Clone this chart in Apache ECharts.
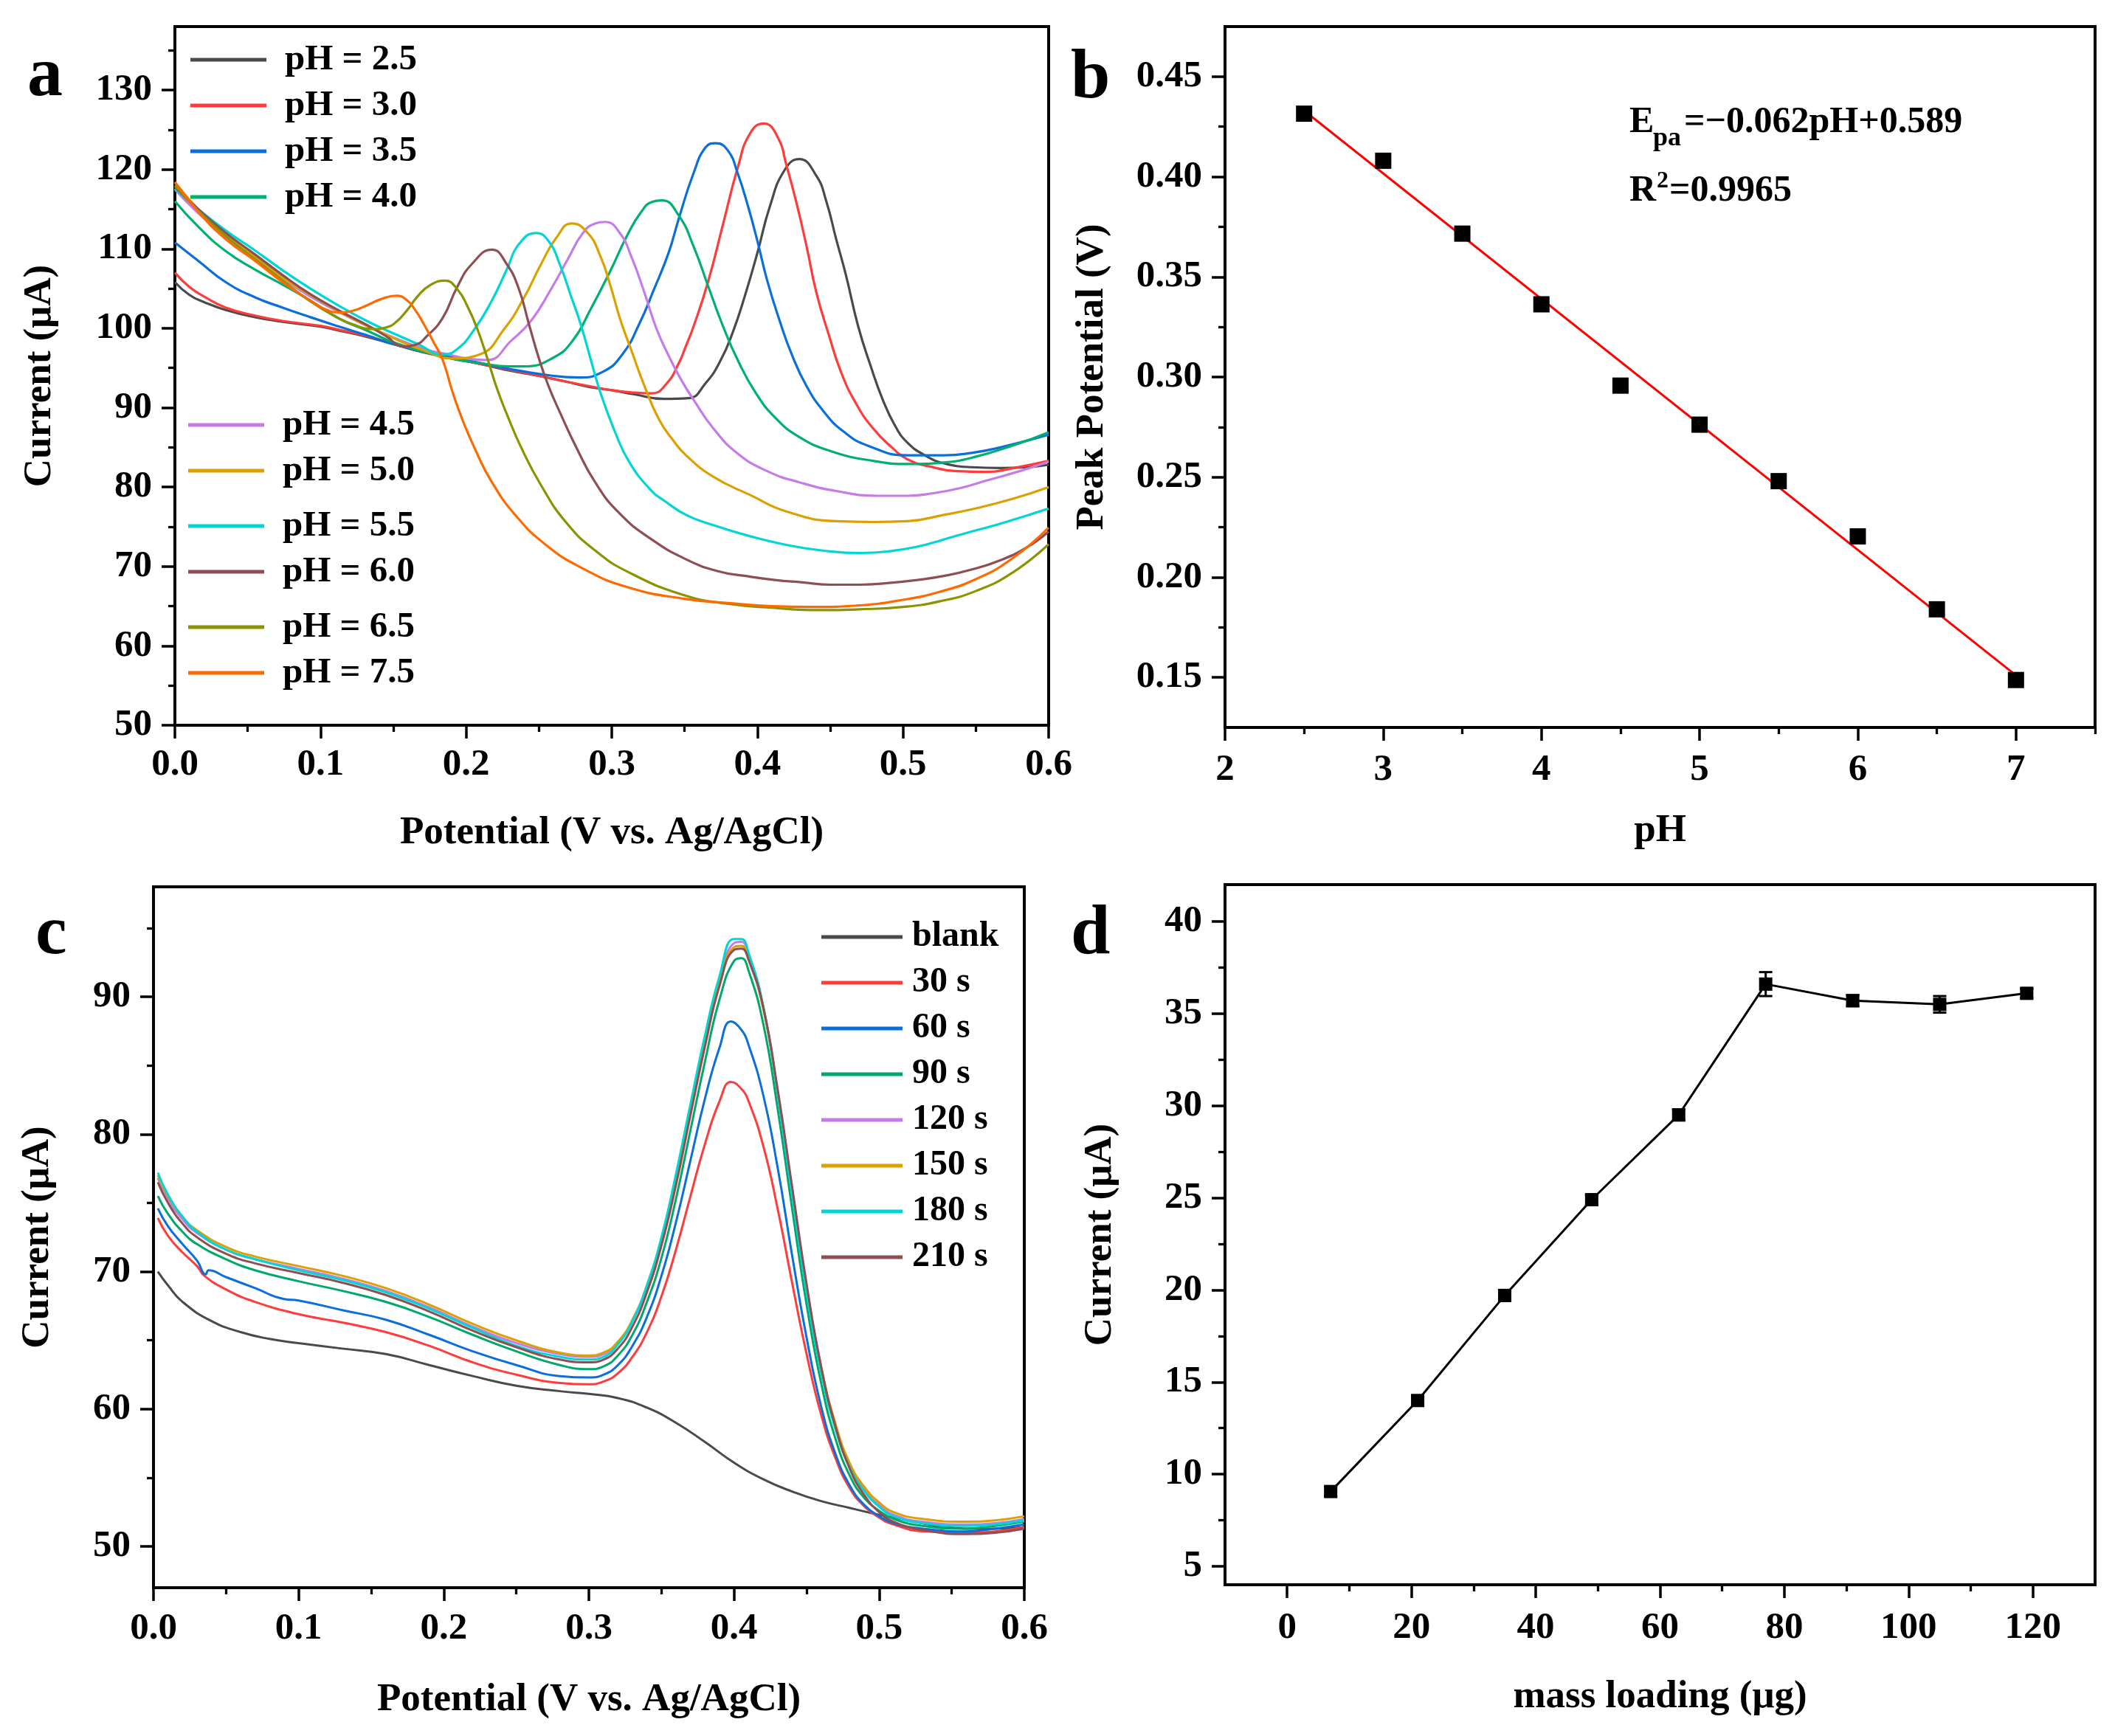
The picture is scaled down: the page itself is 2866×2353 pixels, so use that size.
<!DOCTYPE html>
<html>
<head>
<meta charset="utf-8">
<script src="https://cdn.jsdelivr.net/npm/echarts/dist/echarts.min.js"></script>
<style>html,body{margin:0;padding:0;background:#fff}#c{width:2866px;height:2353px}</style>
</head>
<body>
<div id="c"></div>
<script>
// ---------- Panel a: DPV at different pH ----------
const phNames = ['pH = 2.5','pH = 3.0','pH = 3.5','pH = 4.0','pH = 4.5','pH = 5.0','pH = 5.5','pH = 6.0','pH = 6.5','pH = 7.5'];
const phColors = ['#4a4a4a','#ff3b3b','#0a6fdc','#00b070','#c47de8','#dca000','#00d6d6','#8e4f52','#8a9400','#ff6a00'];
const pH25 = [[0,105.8],[0.01,104.2],[0.02,103.3],[0.035,102.3],[0.055,101.4],[0.075,100.8],[0.1,100.2],[0.113,99.7],[0.13,99],[0.152,97.9],[0.17,97],[0.19,96.2],[0.21,95.5],[0.229,94.7],[0.25,94],[0.268,93.3],[0.285,92.6],[0.3,92.2],[0.315,91.7],[0.3359,91.1],[0.3527,91.2],[0.3645,93.1],[0.3747,95.95],[0.3831,99.5],[0.3916,104.2],[0.4,109.5],[0.4085,115.3],[0.4186,119.9],[0.4287,121.3],[0.4405,119.2],[0.4473,116.0],[0.454,111.3],[0.4608,106.7],[0.4692,100.25],[0.4777,95.3],[0.4861,91.0],[0.4946,87.7],[0.503,85.6],[0.515,84.0],[0.528,83.0],[0.547,82.5],[0.567,82.4],[0.585,82.5],[0.6,82.8]];
const pH30 = [[0,107.0],[0.01,105.2],[0.02,104],[0.035,102.6],[0.055,101.6],[0.075,100.9],[0.1,100.3],[0.113,99.8],[0.13,99.1],[0.152,98],[0.17,97.1],[0.19,96.3],[0.21,95.5],[0.229,94.8],[0.25,94.0],[0.268,93.3],[0.285,92.7],[0.3,92.2],[0.315,91.9],[0.3274,91.8],[0.3375,93.0],[0.346,95.6],[0.351,97.8],[0.3562,100.25],[0.3663,105.97],[0.3764,113.1],[0.3866,120.3],[0.395,124.55],[0.4043,125.8],[0.4136,124.2],[0.4203,120.3],[0.4271,115.6],[0.4338,110.3],[0.4405,104.5],[0.449,99.2],[0.4574,94.5],[0.4675,90.6],[0.4794,87.4],[0.4929,84.9],[0.503,83.5],[0.518,82.6],[0.538,82.0],[0.557,81.9],[0.576,82.4],[0.6,83.3]];
const pH35 = [[0,110.8],[0.016,108.5],[0.035,105.8],[0.055,103.9],[0.074,102.6],[0.093,101.4],[0.113,100.2],[0.132,99.1],[0.152,97.9],[0.19,96.4],[0.229,94.9],[0.26,94.0],[0.2768,93.8],[0.2937,94.5],[0.3072,96.7],[0.319,100.6],[0.329,104.9],[0.3392,109.6],[0.346,113.8],[0.3562,119.55],[0.3645,122.8],[0.3713,123.3],[0.3797,122.4],[0.3864,119.55],[0.3932,115.6],[0.4,111.0],[0.4068,105.97],[0.4152,101.0],[0.4236,96.7],[0.4338,92.7],[0.4456,89.5],[0.4591,87.0],[0.476,85.2],[0.503,84.0],[0.528,84.0],[0.547,84.3],[0.567,85.0],[0.6,86.6]];
const pH40 = [[0,116],[0.016,112.8],[0.035,109.7],[0.055,107.4],[0.074,105.5],[0.093,103.5],[0.113,101.2],[0.132,99.7],[0.152,98.1],[0.19,96.2],[0.21,95.6],[0.229,95.2],[0.2396,95.2],[0.2599,96.3],[0.2734,98.5],[0.2852,102.3],[0.2987,107.1],[0.3106,111.7],[0.32,114.6],[0.3275,115.9],[0.3345,116.1],[0.346,114.2],[0.3562,110.3],[0.3663,105.25],[0.3764,100.25],[0.3866,95.95],[0.3984,92.0],[0.4119,88.8],[0.4288,86.3],[0.4507,84.5],[0.4794,83.3],[0.503,82.9],[0.528,83.1],[0.5473,83.7],[0.5764,85.3],[0.6,86.9]];
const pH45 = [[0,117.5],[0.016,114.5],[0.035,111.5],[0.055,108.8],[0.074,106.2],[0.093,104],[0.113,102],[0.132,100.3],[0.152,98.7],[0.171,97.4],[0.19,96.6],[0.2,96.2],[0.2144,96.0],[0.2313,98.5],[0.2448,101.0],[0.2582,104.9],[0.2701,108.8],[0.2802,112.0],[0.2885,113.2],[0.2953,113.4],[0.3055,112.0],[0.3139,108.8],[0.3224,104.5],[0.3308,99.9],[0.3392,96.5],[0.3477,93.5],[0.3562,91.0],[0.3697,87.4],[0.3866,84.2],[0.4068,82.0],[0.4288,80.6],[0.4541,79.5],[0.4828,78.9],[0.503,78.9],[0.52,79.2],[0.54,79.9],[0.557,80.8],[0.58,82.0],[0.6,83.2]];
const pH50 = [[0,118.4],[0.016,115],[0.035,111.8],[0.055,109],[0.074,106.4],[0.093,104.2],[0.113,102.1],[0.132,100.3],[0.152,98.6],[0.171,97.2],[0.19,96.2],[0.2092,96.7],[0.2261,99.9],[0.2396,103.8],[0.2515,108.1],[0.2616,111.3],[0.2725,113.2],[0.2835,112.0],[0.2919,109.2],[0.2987,105.6],[0.3055,101.3],[0.3139,97.0],[0.3224,92.75],[0.3325,88.5],[0.3425,85.8],[0.351,84.0],[0.3697,81.3],[0.395,79.0],[0.4203,76.9],[0.4541,75.7],[0.48,75.6],[0.503,75.7],[0.528,76.5],[0.5473,77.2],[0.575,78.5],[0.6,80.0]];
const pH55 = [[0,117.6],[0.016,115.0],[0.035,112.3],[0.055,109.8],[0.074,107.3],[0.093,105.0],[0.113,102.8],[0.132,100.9],[0.152,99.2],[0.167,98.0],[0.1839,96.7],[0.194,97.4],[0.2058,99.9],[0.2177,103.5],[0.2279,107.4],[0.2363,110.6],[0.248,112.0],[0.2565,111.0],[0.2649,107.76],[0.2717,104.2],[0.2785,100.6],[0.2852,96.3],[0.292,92.0],[0.3021,87.0],[0.3122,83.1],[0.3274,79.5],[0.3359,78.3],[0.351,76.5],[0.3697,75.2],[0.395,73.8],[0.4203,72.7],[0.445,72.0],[0.4709,71.7],[0.49,71.9],[0.51,72.5],[0.528,73.4],[0.547,74.4],[0.567,75.4],[0.6,77.3]];
const pH60 = [[0,117.8],[0.016,115.0],[0.035,112.0],[0.055,109.3],[0.074,106.7],[0.093,104.3],[0.113,102.2],[0.132,100.4],[0.145,99.0],[0.157,97.7],[0.165,97.9],[0.173,99.0],[0.1839,101.3],[0.194,105.25],[0.204,108.1],[0.2177,109.9],[0.2278,108.1],[0.2363,104.9],[0.243,100.6],[0.2498,96.3],[0.2565,92.75],[0.2649,89.2],[0.2751,85.2],[0.2886,80.6],[0.3055,76.65],[0.3274,73.4],[0.351,70.9],[0.373,69.4],[0.392,68.8],[0.412,68.3],[0.431,68.0],[0.4504,67.7],[0.47,67.7],[0.489,67.9],[0.51,68.3],[0.528,68.8],[0.547,69.6],[0.567,70.8],[0.585,72.4],[0.6,74.4]];
const pH65 = [[0,118.0],[0.016,114.8],[0.035,111.6],[0.055,108.7],[0.074,106.0],[0.093,103.4],[0.11,101.5],[0.122,100.5],[0.136,99.9],[0.145,100.1],[0.152,100.8],[0.16,102.4],[0.167,104.1],[0.175,105.4],[0.1855,106.0],[0.194,104.9],[0.2009,102.75],[0.2077,99.9],[0.2144,96.3],[0.2212,92.4],[0.2279,89.2],[0.238,84.9],[0.2515,80.2],[0.2684,75.6],[0.2887,72.0],[0.3123,69.2],[0.351,66.3],[0.38,65.3],[0.41,64.8],[0.443,64.5],[0.47,64.6],[0.5,64.9],[0.525,65.6],[0.55,66.9],[0.575,69.2],[0.6,72.8]];
const pH75 = [[0,118.4],[0.016,114.7],[0.035,111.2],[0.055,108.5],[0.074,105.8],[0.093,103.5],[0.103,102.4],[0.113,102.0],[0.122,102.2],[0.132,102.9],[0.142,103.7],[0.152,104.1],[0.159,103.6],[0.165,102.3],[0.171,100.5],[0.1775,98.3],[0.1839,96.0],[0.1906,92.0],[0.1974,88.5],[0.2058,84.9],[0.2177,80.6],[0.2346,76.3],[0.2549,72.7],[0.2785,69.9],[0.3106,67.4],[0.351,65.9],[0.38,65.4],[0.41,65.0],[0.438,64.9],[0.47,65.1],[0.5,65.8],[0.525,66.8],[0.55,68.4],[0.575,71.0],[0.6,74.9]];
const phCurves = [pH25,pH30,pH35,pH40,pH45,pH50,pH55,pH60,pH65,pH75];

// ---------- Panel b: peak potential vs pH ----------
const pHValues = [2.5,3,3.5,4,4.5,5,5.5,6,6.5,7];
const peakPotential = [0.4315,0.408,0.3716,0.3363,0.2957,0.2762,0.248,0.2204,0.184,0.1487];
const fitLine = [[2.5,0.433],[7,0.151]];

// ---------- Panel c: accumulation time ----------
const timeNames = ['blank','30 s','60 s','90 s','120 s','150 s','180 s','210 s'];
const timeColors = ['#4a4a4a','#ff3b3b','#0a6fdc','#00a86a','#c47de8','#dca000','#00d6d6','#8e4f52'];
const tBlank = [[0.003,70],[0.01,69],[0.02,67.8],[0.04,66.4],[0.06,65.6],[0.08,65.1],[0.1,64.8],[0.13,64.4],[0.16,64.0],[0.19,63.2],[0.22,62.4],[0.25,61.7],[0.28,61.3],[0.3,61.1],[0.32,60.8],[0.34,60.1],[0.36,59.0],[0.38,57.6],[0.4,56.1],[0.42,54.9],[0.44,54.0],[0.46,53.3],[0.48,52.8],[0.5,52.3],[0.52,51.9],[0.54,51.5],[0.56,51.3],[0.58,51.3],[0.6,51.4]];
const t30 = [[0.003,73.9],[0.01,72.6],[0.02,71.4],[0.03,70.4],[0.035,69.7],[0.05,68.7],[0.07,67.8],[0.1,66.9],[0.13,66.3],[0.16,65.6],[0.19,64.6],[0.22,63.4],[0.25,62.5],[0.28,61.9],[0.3,61.8],[0.31,62.0],[0.32,62.6],[0.33,63.8],[0.34,65.6],[0.35,68.2],[0.36,71.6],[0.37,75.5],[0.38,79.3],[0.39,82.4],[0.398,83.8],[0.405,83.3],[0.41,82.4],[0.42,79.2],[0.43,74.6],[0.44,69.2],[0.45,64.0],[0.46,59.6],[0.47,56.4],[0.48,54.2],[0.49,52.9],[0.5,52.1],[0.51,51.6],[0.53,51.1],[0.56,51.0],[0.58,51.1],[0.6,51.4]];
const t60 = [[0.003,74.6],[0.01,73.3],[0.02,72.0],[0.03,70.8],[0.036,69.8],[0.038,70.1],[0.05,69.6],[0.07,68.8],[0.09,68.0],[0.1,67.9],[0.13,67.2],[0.16,66.5],[0.19,65.4],[0.22,64.2],[0.25,63.2],[0.28,62.4],[0.3,62.3],[0.31,62.5],[0.32,63.2],[0.33,64.6],[0.34,66.7],[0.35,69.7],[0.36,73.6],[0.37,78.1],[0.38,82.6],[0.39,86.3],[0.398,88.2],[0.405,87.6],[0.41,86.5],[0.42,82.9],[0.43,77.6],[0.44,71.2],[0.45,65.2],[0.46,60.2],[0.47,56.7],[0.48,54.4],[0.49,53.0],[0.5,52.2],[0.51,51.7],[0.53,51.3],[0.56,51.1],[0.58,51.3],[0.6,51.6]];
const t90 = [[0.003,75.5],[0.01,74.2],[0.02,72.9],[0.03,72.0],[0.05,70.9],[0.07,70.1],[0.1,69.3],[0.13,68.6],[0.16,67.8],[0.19,66.7],[0.22,65.4],[0.25,64.2],[0.28,63.2],[0.3,62.9],[0.31,63.1],[0.32,63.9],[0.33,65.4],[0.34,67.8],[0.35,71.0],[0.36,75.3],[0.37,80.3],[0.38,85.3],[0.39,89.8],[0.4,92.6],[0.405,92.8],[0.41,91.9],[0.42,88.1],[0.43,81.9],[0.44,74.6],[0.45,67.6],[0.46,61.9],[0.47,57.8],[0.48,55.1],[0.49,53.5],[0.5,52.6],[0.51,52.0],[0.53,51.5],[0.56,51.3],[0.58,51.5],[0.6,51.8]];
const t120 = [[0.003,76.8],[0.01,75.3],[0.02,73.8],[0.03,72.8],[0.05,71.6],[0.07,70.9],[0.1,70.2],[0.13,69.5],[0.16,68.6],[0.19,67.4],[0.22,66.0],[0.25,64.8],[0.28,64.0],[0.3,63.8],[0.31,64.0],[0.32,64.8],[0.33,66.4],[0.34,68.9],[0.35,72.3],[0.36,76.8],[0.37,81.9],[0.38,86.9],[0.39,91.2],[0.4,93.9],[0.405,94.0],[0.41,93.0],[0.42,89.3],[0.43,83.0],[0.44,75.7],[0.45,68.6],[0.46,62.8],[0.47,58.6],[0.48,55.8],[0.49,54.1],[0.5,53.0],[0.51,52.3],[0.53,51.8],[0.56,51.6],[0.58,51.7],[0.6,52.0]];
const t150 = [[0.003,77.0],[0.01,75.5],[0.02,74.0],[0.03,73.0],[0.05,71.8],[0.07,71.1],[0.1,70.4],[0.13,69.7],[0.16,68.8],[0.19,67.6],[0.22,66.2],[0.25,65.0],[0.28,64.1],[0.3,63.9],[0.31,64.1],[0.32,64.9],[0.33,66.5],[0.34,69.0],[0.35,72.4],[0.36,76.9],[0.37,81.9],[0.38,86.8],[0.39,91.0],[0.4,93.6],[0.405,93.7],[0.41,92.8],[0.42,89.2],[0.43,83.1],[0.44,75.9],[0.45,68.9],[0.46,63.1],[0.47,58.9],[0.48,56.0],[0.49,54.3],[0.5,53.2],[0.51,52.5],[0.53,52.0],[0.56,51.8],[0.58,51.9],[0.6,52.2]];
const t180 = [[0.003,77.2],[0.01,75.6],[0.02,74.0],[0.03,72.9],[0.05,71.6],[0.07,70.9],[0.1,70.1],[0.13,69.4],[0.16,68.5],[0.19,67.3],[0.22,65.9],[0.25,64.6],[0.28,63.8],[0.3,63.6],[0.31,63.8],[0.32,64.7],[0.33,66.4],[0.34,69.0],[0.35,72.5],[0.36,77.1],[0.37,82.2],[0.38,87.2],[0.39,91.5],[0.4,94.2],[0.405,94.2],[0.41,93.2],[0.42,89.4],[0.43,83.0],[0.44,75.6],[0.45,68.5],[0.46,62.7],[0.47,58.5],[0.48,55.7],[0.49,54.0],[0.5,52.9],[0.51,52.2],[0.53,51.7],[0.56,51.5],[0.58,51.6],[0.6,51.9]];
const t210 = [[0.003,76.5],[0.01,75.0],[0.02,73.5],[0.03,72.5],[0.05,71.3],[0.07,70.6],[0.1,69.9],[0.13,69.2],[0.16,68.3],[0.19,67.1],[0.22,65.7],[0.25,64.5],[0.28,63.6],[0.3,63.4],[0.31,63.6],[0.32,64.4],[0.33,66.0],[0.34,68.5],[0.35,71.9],[0.36,76.3],[0.37,81.4],[0.38,86.4],[0.39,90.8],[0.4,93.4],[0.405,93.5],[0.41,92.7],[0.42,89.3],[0.43,83.3],[0.44,76.2],[0.45,69.1],[0.46,63.1],[0.47,58.7],[0.48,55.6],[0.49,53.7],[0.5,52.5],[0.51,51.8],[0.53,51.2],[0.56,50.9],[0.58,51.0],[0.6,51.3]];
const timeCurves = [tBlank,t30,t60,t90,t120,t150,t180,t210];

// ---------- Panel d: mass loading ----------
const massLoading = [7,21,35,49,63,77,91,105,119];
const currentD = [9.06,14.0,19.7,24.9,29.5,36.6,35.7,35.5,36.1];
const errD = [0.25,0.25,0.3,0.25,0.3,0.65,0.3,0.45,0.25];

// ---------- Tick values ----------
const aXMajor = [0,0.1,0.2,0.3,0.4,0.5,0.6], aXMinor = [0.05,0.15,0.25,0.35,0.45,0.55];
const aYMajor = [50,60,70,80,90,100,110,120,130], aYMinor = [55,65,75,85,95,105,115,125,135];
const bXMajor = [2,3,4,5,6,7], bXMinor = [2.5,3.5,4.5,5.5,6.5,7.5];
const bYMajor = [0.15,0.2,0.25,0.3,0.35,0.4,0.45], bYMinor = [0.175,0.225,0.275,0.325,0.375,0.425];
const cXMajor = aXMajor, cXMinor = aXMinor;
const cYMajor = [50,60,70,80,90], cYMinor = [55,65,75,85,95];
const dXMajor = [0,20,40,60,80,100,120], dXMinor = [10,30,50,70,90,110];
const dYMajor = [5,10,15,20,25,30,35,40], dYMinor = [7.5,12.5,17.5,22.5,27.5,32.5,37.5];

// ---------- Build ----------
const FONT = '"Liberation Serif", "Times New Roman", serif';
const txt = (size) => ({fontFamily: FONT, fontWeight: 'bold', fontSize: size, color: '#000'});
const AXW = 4;

function axisPair(g, pos, min, max, majors, minors, fmt, name, nameGap, margin) {
  const main = {
    type: 'value', gridIndex: g, position: pos, min: min, max: max,
    axisLine: {show: true, onZero: false, lineStyle: {color: '#000', width: AXW}},
    axisTick: {show: true, inside: false, customValues: majors, length: 18, lineStyle: {color: '#000', width: 3.5}},
    axisLabel: Object.assign({customValues: majors, margin: margin, formatter: fmt}, txt(51)),
    splitLine: {show: false},
    name: name, nameLocation: 'middle', nameGap: nameGap, nameTextStyle: txt(53)
  };
  const minor = {
    type: 'value', gridIndex: g, position: pos, offset: 0, min: min, max: max,
    axisLine: {show: false, onZero: false},
    axisTick: {show: true, inside: false, customValues: minors, length: 9, lineStyle: {color: '#000', width: 3.3}},
    axisLabel: {show: false}, splitLine: {show: false}
  };
  return [main, minor];
}
const f1 = v => v.toFixed(1), f2 = v => v.toFixed(2), f0 = v => String(Math.round(v));

const grids = [
  {left: 237, top: 36, width: 1184, height: 947},
  {left: 1660, top: 36, width: 1179, height: 950},
  {left: 208, top: 1202, width: 1180, height: 950},
  {left: 1660, top: 1199, width: 1179, height: 949}
].map(g => Object.assign(g, {show: true, borderColor: '#000', borderWidth: AXW, backgroundColor: 'transparent'}));

const xAxis = [].concat(
  axisPair(0, 'bottom', 0, 0.6, aXMajor, aXMinor, f1, 'Potential (V vs. Ag/AgCl)', 120, 28),
  axisPair(1, 'bottom', 2, 7.5, bXMajor, bXMinor, f0, 'pH', 114, 32),
  axisPair(2, 'bottom', 0, 0.6, cXMajor, cXMinor, f1, 'Potential (V vs. Ag/AgCl)', 126, 30),
  axisPair(3, 'bottom', -10, 130, dXMajor, dXMinor, f0, 'mass loading (μg)', 126, 33)
);
const yAxis = [].concat(
  axisPair(0, 'left', 50, 138, aYMajor, aYMinor, f0, 'Current (μA)', 156, 31),
  axisPair(1, 'left', 0.125, 0.475, bYMajor, bYMinor, f2, 'Peak Potential (V)', 153, 31),
  axisPair(2, 'left', 47, 98, cYMajor, cYMinor, f0, 'Current (μA)', 130, 31),
  axisPair(3, 'left', 4, 42, dYMajor, dYMinor, f0, 'Current (μA)', 142, 31)
);

const series = [];
phCurves.forEach((d, i) => series.push({
  type: 'line', name: phNames[i], xAxisIndex: 0, yAxisIndex: 0, data: d,
  smooth: 0.5, symbol: 'none', lineStyle: {width: 3.2, color: phColors[i]}, itemStyle: {color: phColors[i]}
}));
series.push({type: 'line', name: 'fit', xAxisIndex: 2, yAxisIndex: 2, data: fitLine, symbol: 'none', lineStyle: {width: 3, color: '#ff0000'}, z: 3});
series.push({type: 'scatter', name: 'Epa', xAxisIndex: 2, yAxisIndex: 2, data: pHValues.map((p, i) => [p, peakPotential[i]]), symbol: 'rect', symbolSize: 22, itemStyle: {color: '#000', opacity: 1}, z: 4});
timeCurves.forEach((d, i) => series.push({
  type: 'line', name: timeNames[i], xAxisIndex: 4, yAxisIndex: 4, data: d,
  smooth: 0.5, symbol: 'none', lineStyle: {width: 3, color: timeColors[i]}, itemStyle: {color: timeColors[i]}
}));
series.push({type: 'line', name: 'mass', xAxisIndex: 6, yAxisIndex: 6, data: massLoading.map((m, i) => [m, currentD[i]]), symbol: 'rect', symbolSize: 18, lineStyle: {width: 3, color: '#000'}, itemStyle: {color: '#000', opacity: 1}, z: 4});
series.push({
  type: 'custom', name: 'err', xAxisIndex: 6, yAxisIndex: 6,
  data: massLoading.map((m, i) => [m, currentD[i], errD[i]]),
  renderItem: function (params, api) {
    const x = api.value(0), y = api.value(1), e = api.value(2);
    const t = api.coord([x, y + e]), b = api.coord([x, y - e]);
    const w = 9, st = {stroke: '#000', lineWidth: 3};
    return {type: 'group', children: [
      {type: 'line', shape: {x1: t[0], y1: t[1], x2: b[0], y2: b[1]}, style: st},
      {type: 'line', shape: {x1: t[0] - w, y1: t[1], x2: t[0] + w, y2: t[1]}, style: st},
      {type: 'line', shape: {x1: b[0] - w, y1: b[1], x2: b[0] + w, y2: b[1]}, style: st}
    ]};
  }, z: 5
});

const legendBase = {orient: 'vertical', icon: 'rect', itemWidth: 103, itemHeight: 5, itemGap: 12, selectedMode: false,
  textStyle: Object.assign({lineHeight: 50, padding: [0, 0, 0, 20]}, txt(49))};
const legend = [
  Object.assign({}, legendBase, {left: 253, top: 51, data: phNames.slice(0, 4)}),
  Object.assign({}, legendBase, {left: 250, top: 546, data: phNames.slice(4, 6)}),
  Object.assign({}, legendBase, {left: 250, top: 683, data: phNames.slice(6, 8)}),
  Object.assign({}, legendBase, {left: 250, top: 820, data: phNames.slice(8, 10)}),
  Object.assign({}, legendBase, {left: 1108, top: 1240, itemWidth: 110, data: timeNames,
    textStyle: Object.assign({lineHeight: 50, padding: [0, 0, 0, 8]}, txt(48))})
];

const letter = (t, x, y) => ({type: 'text', x: x, y: y, style: {text: t, font: 'bold 96px ' + FONT, fill: '#000', verticalAlign: 'bottom'}});
const word = (t, x, y, s) => ({type: 'text', x: x, y: y, style: {text: t, font: 'bold ' + s + 'px ' + FONT, fill: '#000', verticalAlign: 'bottom'}});
const graphic = [
  letter('a', 37, 152), letter('b', 1451, 155), letter('c', 48, 1315), letter('d', 1451, 1315),
  word('E', 2208, 191, 50), word('pa', 2240, 206, 36), word('=\u22120.062pH+0.589', 2282, 191, 50),
  word('R', 2208, 284, 50), word('2', 2245, 262, 32), word('=0.9965', 2262, 284, 50)
];

const chart = echarts.init(document.getElementById('c'), null, {renderer: 'canvas', width: 2866, height: 2353});
chart.setOption({
  animation: false, backgroundColor: '#fff',
  grid: grids, xAxis: xAxis, yAxis: yAxis, series: series, legend: legend, graphic: graphic
});
</script>
</body>
</html>
